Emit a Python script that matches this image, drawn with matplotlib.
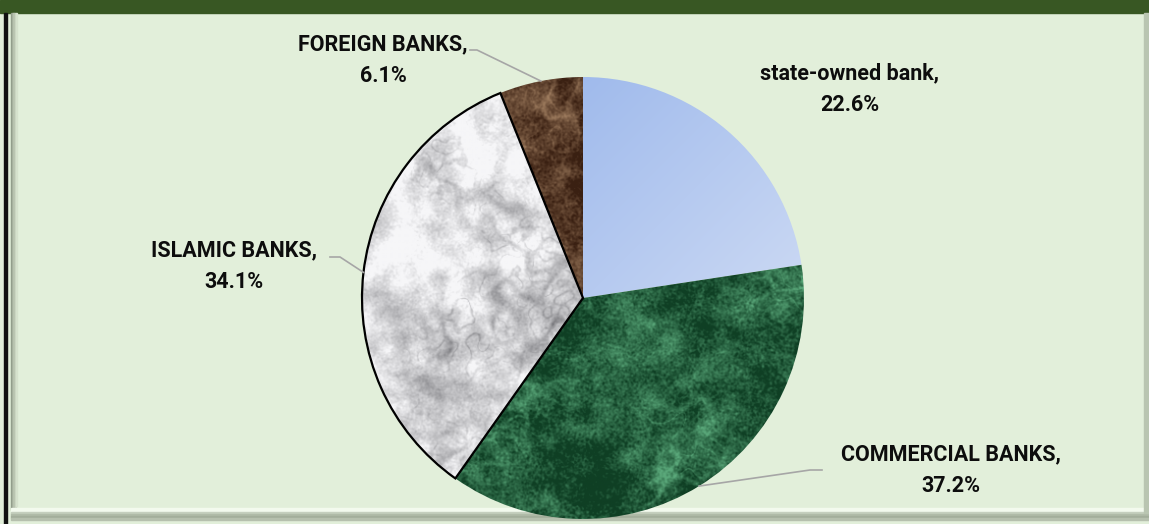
import numpy as np
import matplotlib
matplotlib.use("Agg")
import matplotlib.pyplot as plt
from matplotlib.patches import Rectangle

# bank ownership shares (%)
categories = ["state-owned bank", "COMMERCIAL BANKS", "ISLAMIC BANKS", "FOREIGN BANKS"]
shares = [22.6, 37.2, 34.1, 6.1]

W, H = 1149, 524
CENTER = (583, 298)
RADIUS = 221

plt.rcParams['font.family'] = ['Roboto', 'DejaVu Sans']

fig = plt.figure(figsize=(W / 100, H / 100), dpi=100)
ax = fig.add_axes([0, 0, 1, 1])
fig.patch.set_facecolor("#e2efda")
ax.set_facecolor("#e2efda")


def blurred_noise(rng, n, sigma):
    f = np.fft.fft2(rng.standard_normal((n, n)))
    k = np.fft.fftfreq(n)
    kx, ky = np.meshgrid(k, k)
    g = np.exp(-2 * (np.pi * sigma) ** 2 * (kx ** 2 + ky ** 2))
    out = np.real(np.fft.ifft2(f * g))
    return (out - out.mean()) / out.std()


def marble(seed, base, vein, n=450, cloud=(0.22, 0.14), vein_scale=(16, 8), vein_w=0.35,
           vein_amt=0.45, grain=0.08, offset=0.3):
    # cloudy mottling plus soft veins along zero lines of smooth noise
    rng = np.random.default_rng(seed)
    c = cloud[0] * blurred_noise(rng, n, 18) + cloud[1] * blurred_noise(rng, n, 6)
    v1 = np.exp(-(blurred_noise(rng, n, vein_scale[0]) / vein_w) ** 2)
    v2 = np.exp(-(blurred_noise(rng, n, vein_scale[1]) / (vein_w * 0.8)) ** 2)
    strength = np.clip(0.6 + 0.5 * blurred_noise(rng, n, 30), 0, 1)
    v = np.maximum(v1, 0.7 * v2) * strength
    g = grain * blurred_noise(rng, n, 0.8)
    m = np.clip(offset + c + vein_amt * v + g, 0, 1)
    base = np.array(matplotlib.colors.to_rgb(base))
    vein = np.array(matplotlib.colors.to_rgb(vein))
    return base * (1 - m[..., None]) + vein * m[..., None]


def gradient(c0, c1, n=200):
    yy, xx = np.mgrid[0:n, 0:n] / n
    t = np.clip((xx + yy) / 2, 0, 1)[..., None]
    c0 = np.array(matplotlib.colors.to_rgb(c0))
    c1 = np.array(matplotlib.colors.to_rgb(c1))
    return c0 * (1 - t) + c1 * t


# frame: title bar, left rule and bevelled edges
ax.add_patch(Rectangle((0, 0), W, 13, color="#385723", zorder=1))
ax.add_patch(Rectangle((4, 13), 2.5, H - 13, color="#111111", zorder=1))
for i, c in enumerate(["#8f9a88", "#a3ae9b", "#b7c2ae", "#c9d4c0", "#d6e2cd"]):
    ax.add_patch(Rectangle((11 + i * 1.2, 13), 1.3, 497 - i, color=c, zorder=1))
ax.add_patch(Rectangle((11, 508), 1133, 4, color="#f3faee", zorder=1))
for i, c in enumerate(["#c5cfbe", "#b0bba8", "#a3ae9b", "#b6c0ae"]):
    ax.add_patch(Rectangle((11, 512 + i * 2), 1138, 2, color=c, zorder=1))
ax.add_patch(Rectangle((1144, 13), 5, 500, color="#b9c5b1", zorder=1))

# pie: y axis points down, so counterclockwise in data runs clockwise on screen
wedges, _ = ax.pie(shares, center=CENTER, radius=RADIUS, startangle=-90,
                   counterclock=True, wedgeprops=dict(linewidth=0))

fills = [
    gradient("#8aabe8", "#e2e9f8"),
    marble(3, "#0f3f24", "#5aa87a", cloud=(0.11, 0.1), vein_scale=(12, 5), vein_w=0.3,
           vein_amt=0.4, grain=0.12, offset=0.27),
    marble(7, "#f6f6f8", "#76767a", cloud=(0.12, 0.1), vein_scale=(9, 4), vein_w=0.45,
           vein_amt=0.35, grain=0.05, offset=0.16),
    marble(11, "#3a2012", "#a07e60", cloud=(0.14, 0.1), vein_scale=(10, 5), vein_w=0.3,
           vein_amt=0.35, grain=0.1, offset=0.22),
]
extent = (CENTER[0] - RADIUS, CENTER[0] + RADIUS, CENTER[1] + RADIUS, CENTER[1] - RADIUS)
for w, img in zip(wedges, fills):
    w.set_facecolor("none")
    w.set_zorder(3)
    im = ax.imshow(np.clip(img, 0, 1), extent=extent, zorder=2, interpolation="bilinear")
    im.set_clip_path(w)

# the white marble slice carries a black outline
islamic = wedges[2]
islamic.set_edgecolor("black")
islamic.set_linewidth(1.6)
islamic.set_zorder(4)

# data labels with leader lines
label_pos = [(850, 89), (951, 470), (234, 266), (383, 60)]
elbows = [None, [(810, 470), (822, 470)], [(340, 257), (330, 257)], [(477, 50), (470, 50)]]
for w, name, val, pos, elb in zip(wedges, categories, shares, label_pos, elbows):
    ax.text(pos[0], pos[1], f"{name},\n{val:.1f}%", ha="center", va="center",
            fontsize=15.5, fontweight="bold", color="#0d0d0d", linespacing=1.55, zorder=5)
    if elb is None:
        continue
    mid = np.deg2rad((w.theta1 + w.theta2) / 2)
    px = CENTER[0] + RADIUS * np.cos(mid)
    py = CENTER[1] + RADIUS * np.sin(mid)
    xs = [px] + [e[0] for e in elb]
    ys = [py] + [e[1] for e in elb]
    ax.plot(xs, ys, color="#a6a6a6", lw=1.2, zorder=5)

ax.set_xlim(0, W)
ax.set_ylim(H, 0)
ax.set_aspect("auto")
ax.axis("off")

fig.savefig("out.png", dpi=100, facecolor=fig.get_facecolor())
